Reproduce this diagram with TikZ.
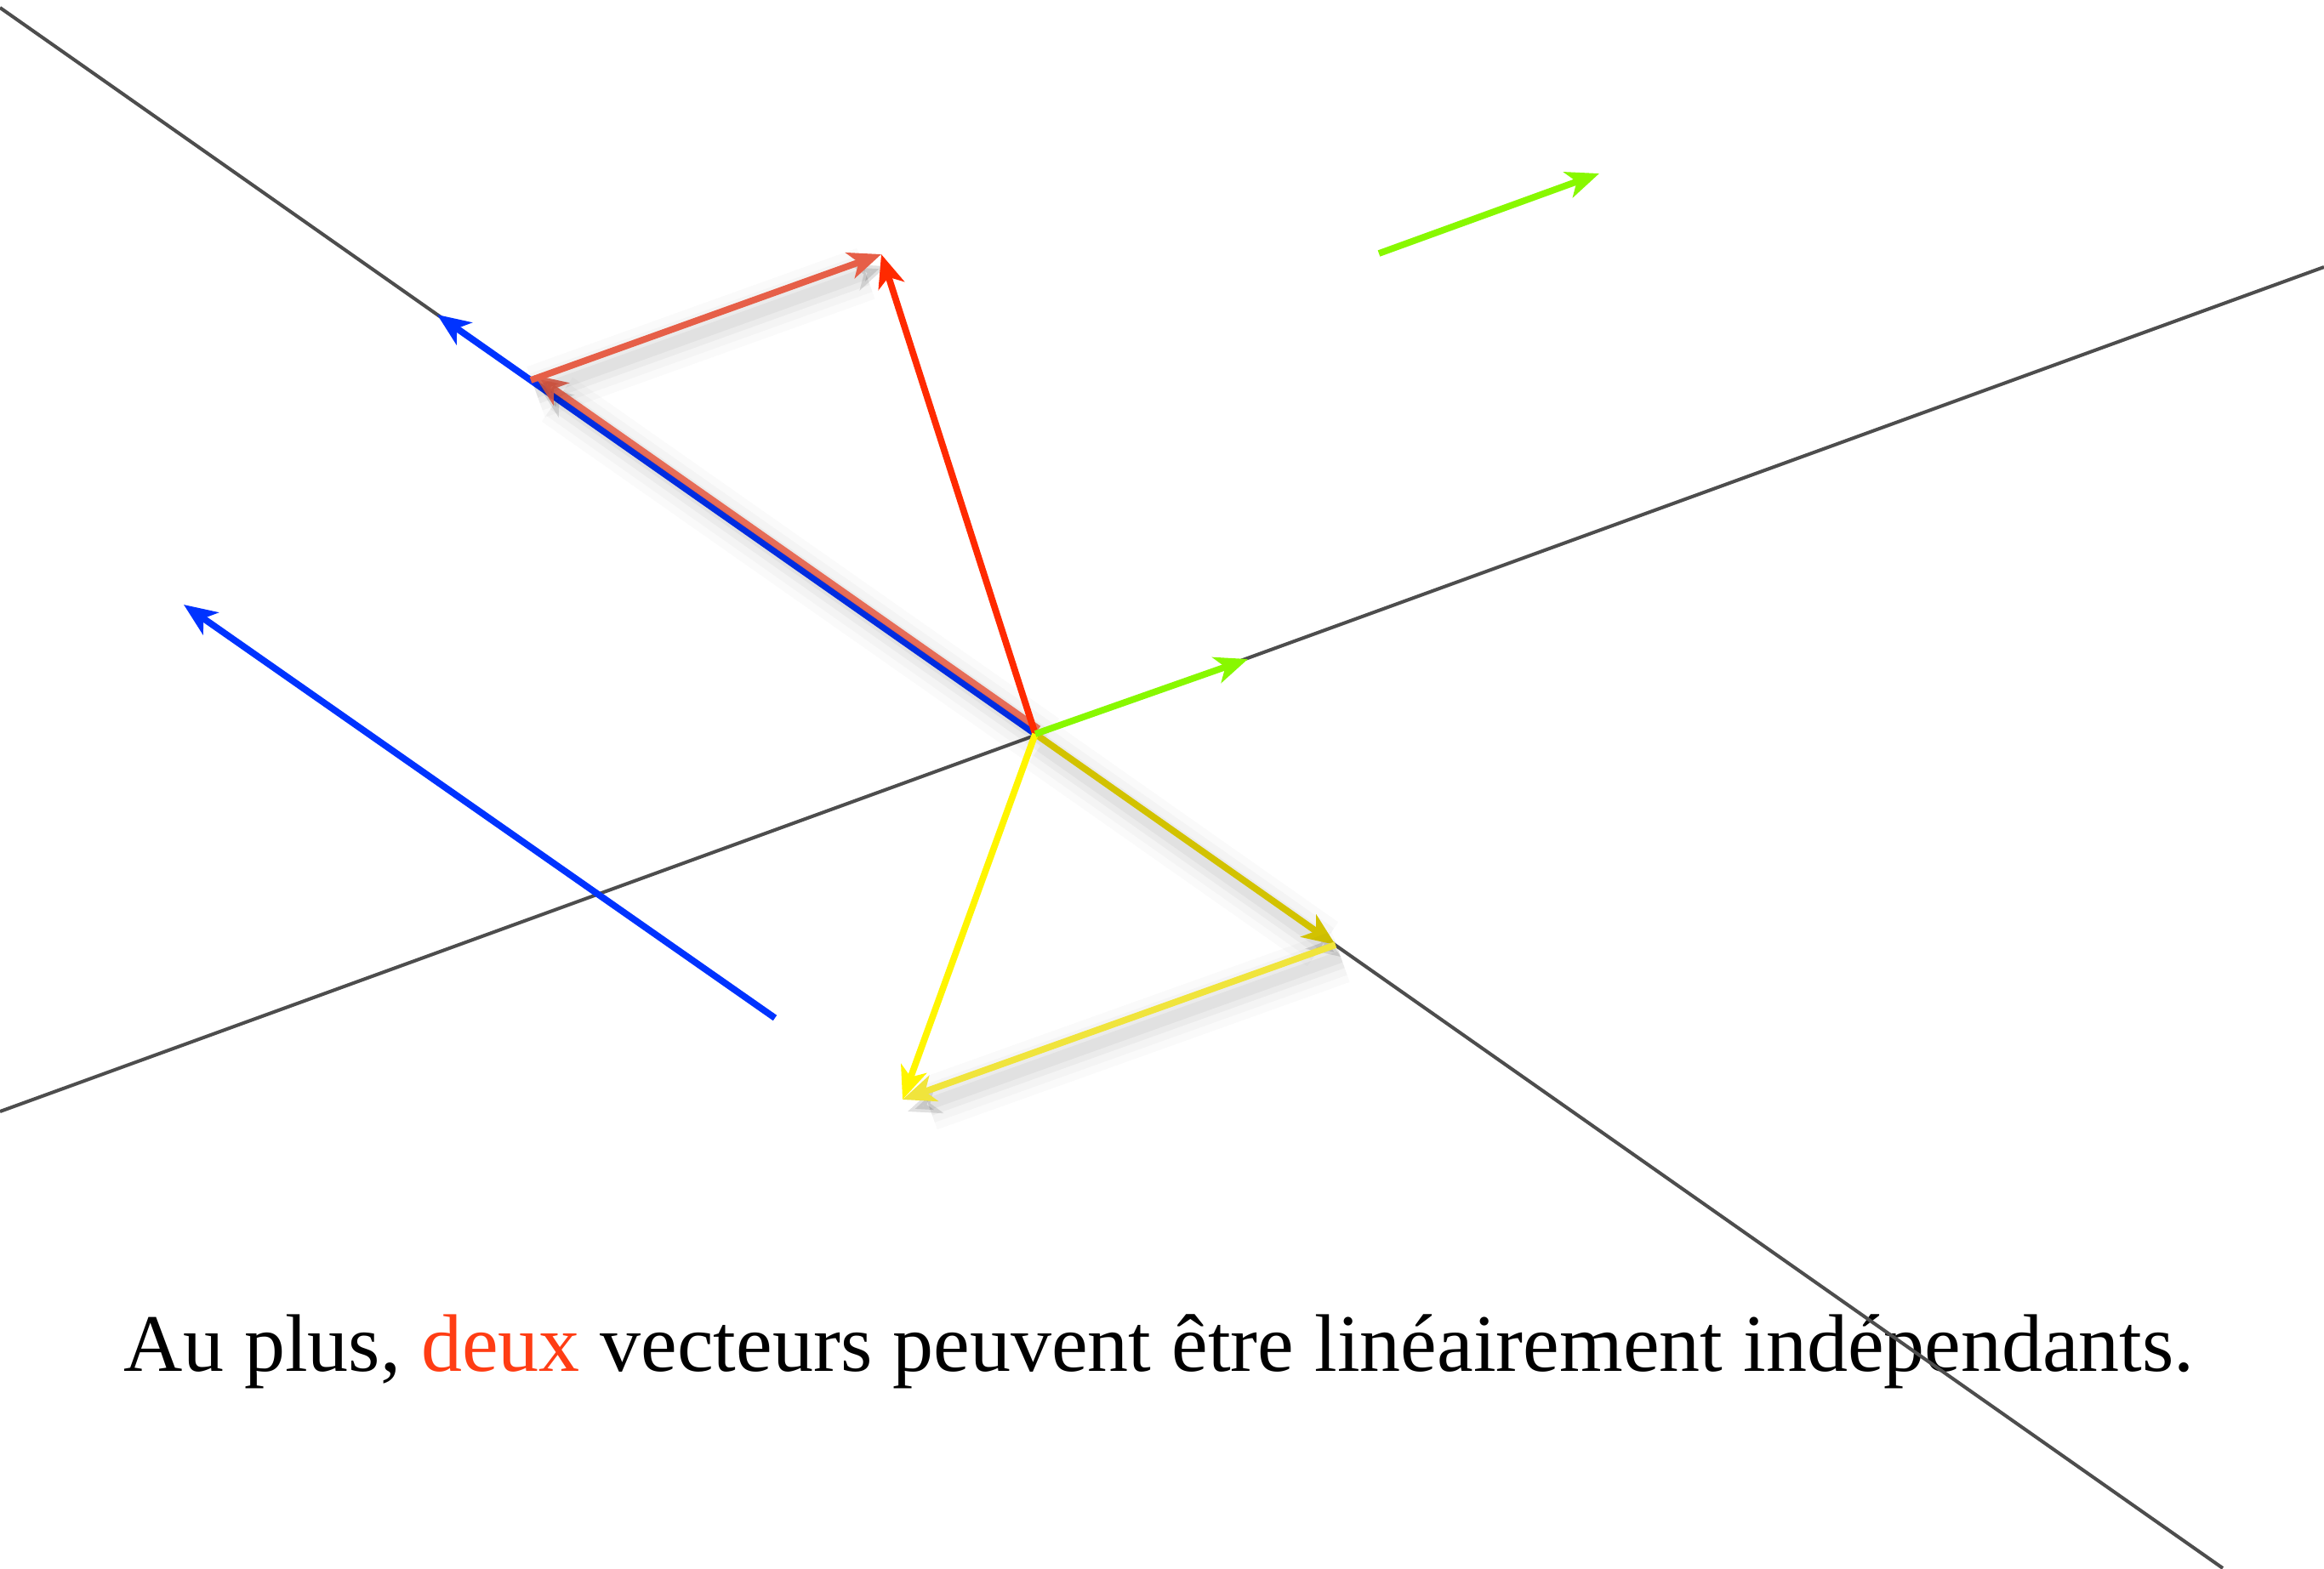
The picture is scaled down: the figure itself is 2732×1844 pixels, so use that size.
\documentclass[tikz,border=0pt]{standalone}
\usepackage{fontspec}
\setmainfont{Liberation Serif}
\usepackage{xcolor}
\usetikzlibrary{arrows.meta,calc}
\definecolor{axisgray}{HTML}{4D4D4D}
\definecolor{vecblue}{HTML}{0033FF}
\definecolor{vecgreen}{HTML}{88F800}
\definecolor{vecred}{HTML}{FF2A00}
\definecolor{compred}{HTML}{E65F48}
\definecolor{compyellow}{HTML}{D2C200}
\definecolor{sideyellow}{HTML}{F0E43C}
\definecolor{vecyellow}{HTML}{FFF500}
\definecolor{wordred}{HTML}{FF3D14}

\begin{document}
\begin{tikzpicture}[x=0.01cm,y=-0.01cm,
  axis/.style={axisgray,line width=1.15pt},
  vec/.style={line width=2.2pt,-{Stealth[length=11pt,width=9pt,inset=3pt]}},
  blur/.style={preaction={draw=black,opacity=0.02,line width=18pt,transform canvas={shift={(6,14)}}},
               preaction={draw=black,opacity=0.025,line width=13pt,transform canvas={shift={(6,14)}}},
               preaction={draw=black,opacity=0.035,line width=8pt,transform canvas={shift={(6,14)}}},
               preaction={draw=black,opacity=0.045,line width=4pt,transform canvas={shift={(6,14)}}}}]
  \useasboundingbox (0,0) rectangle (2732,1844);
  \clip (0,0) rectangle (2732,1844);
  \node[anchor=base west,font=\fontsize{27.3}{30}\selectfont,inner sep=0pt] (caption) at (145,1612) {Au plus, \textcolor{wordred}{deux} vecteurs peuvent être linéairement indépendants.};
  \coordinate (O) at (1217,863);
  \coordinate (a1) at (0,1307);
  \coordinate (a2) at (2732,314);
  \coordinate (b1) at (0,9);
  \coordinate (b2) at (2613,1844);
  \coordinate (B) at (514,370);
  \coordinate (G) at (1467,775);
  \coordinate (R) at (1036,299);
  \coordinate (P1) at (624,447);
  \coordinate (Os) at ($(O)+(4,-6)$);
  \coordinate (P1s) at ($(P1)+(4,-6)$);
  \coordinate (Y) at (1061,1293);
  \coordinate (P2) at (1570,1111);
  \coordinate (g1) at (1621,298);
  \coordinate (g2) at (1880,204);
  \coordinate (t1) at (911,1197);
  \coordinate (t2) at (216,711);
  \draw[axis] (a1) -- (a2);
  \draw[axis] (b1) -- (b2);
  \draw[vec,vecblue] (O) -- (B);
  \draw[vec,vecblue] (t1) -- (t2);
  \draw[vec,vecgreen] (g1) -- (g2);
  \draw[vec,compred,blur,opacity=0.9] (Os) -- (P1s);
  \draw[vec,compred,blur] (P1) -- (R);
  \draw[vec,compyellow,blur] (O) -- (P2);
  \draw[vec,sideyellow,blur] (P2) -- (Y);
  \draw[vec,vecred] (O) -- (R);
  \draw[vec,vecyellow] (O) -- (Y);
  \draw[vec,vecgreen] (O) -- (G);
\end{tikzpicture}
\end{document}
